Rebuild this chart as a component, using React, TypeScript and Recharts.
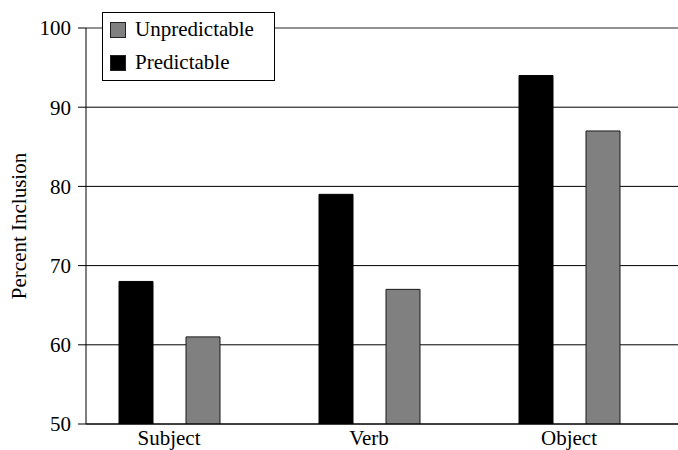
import React from 'react';
import { BarChart, Bar, XAxis, YAxis, CartesianGrid, ReferenceLine } from 'recharts';

const categories = ['Subject', 'Verb', 'Object'];
const predictable = [68, 79, 94];
const unpredictable = [61, 67, 87];
const yTicks = [50, 60, 70, 80, 90, 100];

const data = categories.map((c, i) => ({
  name: c,
  predictable: predictable[i],
  unpredictable: unpredictable[i],
}));

const FONT = '"Liberation Serif", "DejaVu Serif", serif';
const FS = 21;

const legendItems = [
  { label: 'Unpredictable', color: '#808080' },
  { label: 'Predictable', color: '#000000' },
];

const LegendBox = () => (
  <div
    style={{
      position: 'absolute',
      left: 102,
      top: 12,
      boxSizing: 'border-box',
      width: 173,
      height: 69,
      border: '1px solid #000',
      background: '#fff',
      fontFamily: FONT,
      fontSize: FS,
      color: '#000',
      paddingLeft: 7,
      paddingTop: 0,
    }}
  >
    {legendItems.map((it) => (
      <div key={it.label} style={{ display: 'flex', alignItems: 'center', height: 33 }}>
        <span
          style={{
            display: 'inline-block',
            boxSizing: 'border-box',
            width: 16,
            height: 16,
            background: it.color,
            border: '1px solid #222',
            marginRight: 9,
            flex: 'none',
          }}
        />
        <span style={{ lineHeight: '21px', whiteSpace: 'nowrap' }}>{it.label}</span>
      </div>
    ))}
  </div>
);

export default function App() {
  return (
    <div style={{ position: 'absolute', left: 0, top: 0, width: 678, height: 450, background: '#fff' }}>
      <BarChart
        width={678}
        height={450}
        data={data}
        margin={{ top: 28, right: 0, left: 0, bottom: 0 }}
        barSize={34}
        barGap={33}
      >
        <CartesianGrid vertical={false} stroke="#000" strokeWidth={1} />
        <ReferenceLine y={100} stroke="#999" strokeWidth={1.5} />
        <XAxis
          dataKey="name"
          height={26}
          padding={{ left: -17, right: 9 }}
          tickLine={false}
          tickSize={0}
          tickMargin={6}
          axisLine={{ stroke: '#000' }}
          tick={{ fill: '#000', fontSize: FS, fontFamily: FONT }}
          interval={0}
        />
        <YAxis
          width={86}
          domain={[50, 100]}
          ticks={yTicks}
          interval={0}
          tickSize={8}
          tickMargin={7}
          axisLine={{ stroke: '#000' }}
          tickLine={{ stroke: '#000' }}
          tick={{ fill: '#000', fontSize: FS, fontFamily: FONT }}
          allowDataOverflow
          label={{
            value: 'Percent Inclusion',
            angle: -90,
            position: 'insideLeft',
            offset: 19,
            style: { textAnchor: 'middle', fill: '#000', fontSize: FS, fontFamily: FONT },
          }}
        />
        <Bar dataKey="predictable" fill="#000" stroke="#000" strokeWidth={1} isAnimationActive={false} />
        <Bar dataKey="unpredictable" fill="#808080" stroke="#1a1a1a" strokeWidth={1} isAnimationActive={false} />
      </BarChart>
      <LegendBox />
    </div>
  );
}
